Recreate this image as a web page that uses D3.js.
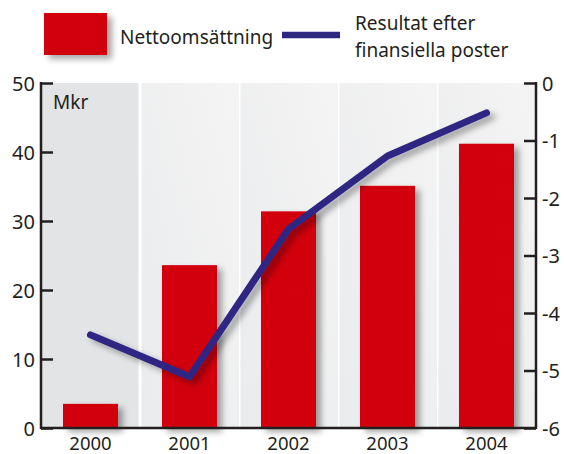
<!DOCTYPE html>
<html>
<head>
<meta charset="utf-8">
<script src="https://cdn.jsdelivr.net/npm/d3@7"></script>
<style>
  body { margin: 0; background: #fff; }
  text { font-family: "Noto Sans", "Open Sans", sans-serif; fill: #231f20; }
</style>
</head>
<body>
<div id="chart"></div>
<script>
// data
const years = ["2000", "2001", "2002", "2003", "2004"];
const netSales = [3.5, 23.6, 31.4, 35.1, 41.2];          // Mkr, left axis
const resultAfter = [-4.38, -5.11, -2.54, -1.27, -0.52]; // Mkr, right axis
const leftTicks = [0, 10, 20, 30, 40, 50];
const rightTicks = [0, -1, -2, -3, -4, -5, -6];

const W = 564, H = 454;
const margin = {top: 83, right: 28, bottom: 26, left: 41};
const width = W - margin.left - margin.right;
const height = H - margin.top - margin.bottom;

const svg = d3.select("#chart").append("svg")
    .attr("width", W)
    .attr("height", H);

const defs = svg.append("defs");
const shadow = defs.append("filter").attr("id", "shadow")
    .attr("x", "-30%").attr("y", "-30%").attr("width", "160%").attr("height", "160%");
shadow.append("feDropShadow")
    .attr("dx", 5).attr("dy", 4).attr("stdDeviation", 3)
    .attr("flood-color", "#000").attr("flood-opacity", 0.35);

const bandGrad = defs.append("linearGradient").attr("id", "bandGrad")
    .attr("x1", 0).attr("y1", 1).attr("x2", 1).attr("y2", 0);
bandGrad.append("stop").attr("offset", "0%").attr("stop-color", "#eaebed");
bandGrad.append("stop").attr("offset", "100%").attr("stop-color", "#f4f4f4");

const g = svg.append("g").attr("transform", `translate(${margin.left},${margin.top})`);

// scales
const x = d3.scaleBand().domain(years).range([0, width]).paddingInner(0).paddingOuter(0);
const yL = d3.scaleLinear().domain([0, 50]).range([height, 0]);
const yR = d3.scaleLinear().domain([-6, 0]).range([height, 0]);

// background bands
g.selectAll(".band").data(years).enter().append("rect")
    .attr("class", "band")
    .attr("x", d => x(d) + (d === years[0] ? 0 : 1.5))
    .attr("y", 0)
    .attr("width", x.bandwidth() - 1.5)
    .attr("height", height)
    .attr("fill", (d, i) => i === 0 ? "#e3e4e6" : "url(#bandGrad)");

// "Mkr" label
g.append("text").attr("x", 12).attr("y", 26)
    .style("font-size", "19px").text("Mkr");

// bars
const barW = 55;
g.append("g").attr("filter", "url(#shadow)")
  .selectAll(".bar").data(netSales).enter().append("rect")
    .attr("class", "bar")
    .attr("x", (d, i) => x(years[i]) + x.bandwidth() / 2 - barW / 2)
    .attr("y", d => yL(d))
    .attr("width", barW)
    .attr("height", d => height - yL(d))
    .attr("fill", "#d2000f");

// line
const line = d3.line()
    .x((d, i) => x(years[i]) + x.bandwidth() / 2)
    .y(d => yR(d));
g.append("path")
    .datum(resultAfter)
    .attr("d", line)
    .attr("fill", "none")
    .attr("stroke", "#2e2782")
    .attr("stroke-width", 7)
    .attr("stroke-linecap", "round")
    .attr("stroke-linejoin", "round")
    .attr("filter", "url(#shadow)");

// axes
const leftAxis = g.append("g")
    .call(d3.axisRight(yL).tickValues(leftTicks).tickSize(12).tickFormat(d3.format("d")));
leftAxis.select(".domain").remove();
leftAxis.selectAll(".tick line").attr("stroke", "#231f20").attr("stroke-width", 2.5);
leftAxis.selectAll(".tick text")
    .attr("x", -6).attr("text-anchor", "end").attr("dy", "0.35em")
    .style("font-size", "20px");

const rightAxis = g.append("g").attr("transform", `translate(${width},0)`)
    .call(d3.axisLeft(yR).tickValues(rightTicks).tickSize(12).tickFormat(d => d === 0 ? "0" : "-" + Math.abs(d)));
rightAxis.select(".domain").remove();
rightAxis.selectAll(".tick line").attr("stroke", "#231f20").attr("stroke-width", 2.5);
rightAxis.selectAll(".tick text")
    .attr("x", 6).attr("text-anchor", "start").attr("dy", "0.35em")
    .style("font-size", "20px");

// frame lines
g.append("line").attr("x1", 0).attr("x2", 0).attr("y1", -1).attr("y2", height + 1)
    .attr("stroke", "#231f20").attr("stroke-width", 2.5);
g.append("line").attr("x1", width).attr("x2", width).attr("y1", -1).attr("y2", height + 1)
    .attr("stroke", "#231f20").attr("stroke-width", 2.5);
g.append("line").attr("x1", 0).attr("x2", width).attr("y1", height).attr("y2", height)
    .attr("stroke", "#231f20").attr("stroke-width", 2.5);

// x labels
const xAxis = g.append("g").attr("transform", `translate(0,${height})`)
    .call(d3.axisBottom(x).tickSize(0).tickPadding(9));
xAxis.select(".domain").remove();
xAxis.selectAll(".tick text").style("font-size", "18.5px");

// legend
const leg = svg.append("g");
leg.append("rect").attr("x", 44).attr("y", 13).attr("width", 63).attr("height", 42)
    .attr("fill", "#d2000f").attr("filter", "url(#shadow)");
leg.append("text").attr("x", 120).attr("y", 44).style("font-size", "19px").text("Nettoomsättning");
leg.append("line").attr("x1", 282).attr("x2", 340).attr("y1", 35).attr("y2", 35)
    .attr("stroke", "#2e2782").attr("stroke-width", 6.5);
leg.append("text").attr("x", 355).attr("y", 30).style("font-size", "19px").text("Resultat efter");
leg.append("text").attr("x", 355).attr("y", 57).style("font-size", "19px").text("finansiella poster");
</script>
</body>
</html>
